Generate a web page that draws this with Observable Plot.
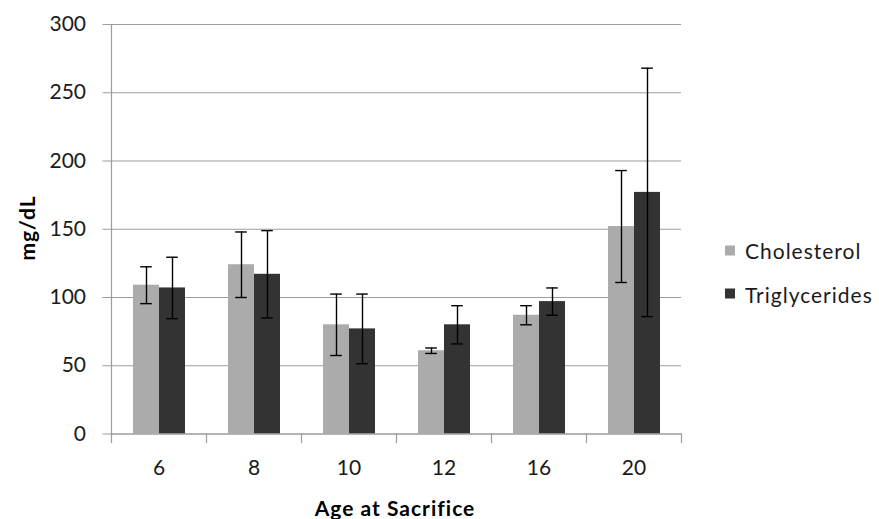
<!DOCTYPE html>
<html>
<head>
<meta charset="utf-8">
<script src="https://cdn.jsdelivr.net/npm/d3@7"></script>
<script src="https://cdn.jsdelivr.net/npm/@observablehq/plot@0.6"></script>
<style>
  html, body { margin: 0; padding: 0; background: #fff; }
  #wrap { position: relative; width: 879px; height: 519px; font-family: Lato, "Open Sans", sans-serif; color: #000; }
  .lab { position: absolute; white-space: nowrap; font-size: 21px; line-height: 1; letter-spacing: 1px; }
  .ylab { left: 25.5px; top: 227.5px; font-weight: bold; transform: translate(-50%, -50%) rotate(-90deg); }
  .xlab { left: 395px; top: 507px; font-weight: bold; transform: translate(-50%, -50%); }
  .leg { left: 725px; display: flex; align-items: center; transform: translateY(-50%); color: #1a1a1a; }
  .sw { width: 10px; height: 10px; margin-right: 10px; }
</style>
</head>
<body>
<div id="wrap"></div>
<script>
const ages = ["6", "8", "10", "12", "16", "20"];
const seriesNames = ["Cholesterol", "Triglycerides"];
const cholesterol = [109, 124, 80, 61, 87, 152];
const cholesterolErr = [13.5, 24, 22.5, 2, 7, 41];
const triglycerides = [107, 117, 77, 80, 97, 177];
const triglyceridesErr = [22.5, 32, 25.5, 14, 10, 91];
const yTicks = [0, 50, 100, 150, 200, 250, 300];
const colors = ["#ababab", "#333333"];

const rows = [];
ages.forEach((a, i) => {
  rows.push({age: a, series: seriesNames[0], value: cholesterol[i], err: cholesterolErr[i]});
  rows.push({age: a, series: seriesNames[1], value: triglycerides[i], err: triglyceridesErr[i]});
});

const grid = "#9c9c9c";
const chart = Plot.plot({
  width: 879,
  height: 519,
  marginLeft: 108,
  marginRight: 196,
  marginTop: 24,
  marginBottom: 85.5,
  style: {fontFamily: "Lato, 'Open Sans', sans-serif", fontSize: "21px", color: "#000", background: "transparent"},
  fx: {domain: ages, padding: 0, axis: null, label: null},
  x: {domain: seriesNames, paddingInner: 0, paddingOuter: 0.774, axis: null},
  y: {domain: [0, 300], axis: null},
  color: {domain: seriesNames, range: colors},
  marks: [
    Plot.gridY(yTicks, {stroke: grid, strokeOpacity: 1, strokeWidth: 1.2}),
    Plot.barY(rows, {fx: "age", x: "series", y: "value", fill: "series"}),
    Plot.ruleY([0], {stroke: grid, strokeWidth: 1.2}),
    Plot.frame({anchor: "left", stroke: grid, strokeWidth: 1.2, facet: "super"}),
    Plot.frame({anchor: "left", stroke: grid, strokeWidth: 1.2, insetTop: 409.5, insetBottom: -8.5}),
    Plot.frame({anchor: "right", stroke: grid, strokeWidth: 1.2, insetTop: 409.5, insetBottom: -8.5, facet: "super"}),
    Plot.ruleX(rows, {fx: "age", x: "series", y1: d => d.value - d.err, y2: d => d.value + d.err, stroke: "#000", strokeWidth: 1.4}),
    Plot.tickY(rows, {fx: "age", x: "series", y: d => d.value + d.err, stroke: "#000", strokeWidth: 1.4, insetLeft: 7.2, insetRight: 7.2}),
    Plot.tickY(rows, {fx: "age", x: "series", y: d => d.value - d.err, stroke: "#000", strokeWidth: 1.4, insetLeft: 7.2, insetRight: 7.2}),
    Plot.axisY({ticks: yTicks, tickSize: 8.5, tickPadding: 17, stroke: grid, fill: "#1a1a1a", fontSize: 21, label: null}),
    Plot.axisFx({anchor: "bottom", tickSize: 0, tickPadding: 26.5, fill: "#1a1a1a", fontSize: 21, label: null})
  ]
});

const wrap = document.getElementById("wrap");
wrap.appendChild(chart);

function addLabel(cls, text) {
  const d = document.createElement("div");
  d.className = "lab " + cls;
  d.textContent = text;
  wrap.appendChild(d);
  return d;
}
addLabel("ylab", "mg/dL");
addLabel("xlab", "Age at Sacrifice");

const legendCenters = [250, 293.5];
seriesNames.forEach((name, i) => {
  const d = document.createElement("div");
  d.className = "lab leg";
  d.style.top = legendCenters[i] + "px";
  const sw = document.createElement("span");
  sw.className = "sw";
  sw.style.background = colors[i];
  const t = document.createElement("span");
  t.textContent = name;
  d.appendChild(sw);
  d.appendChild(t);
  wrap.appendChild(d);
});
</script>
</body>
</html>
